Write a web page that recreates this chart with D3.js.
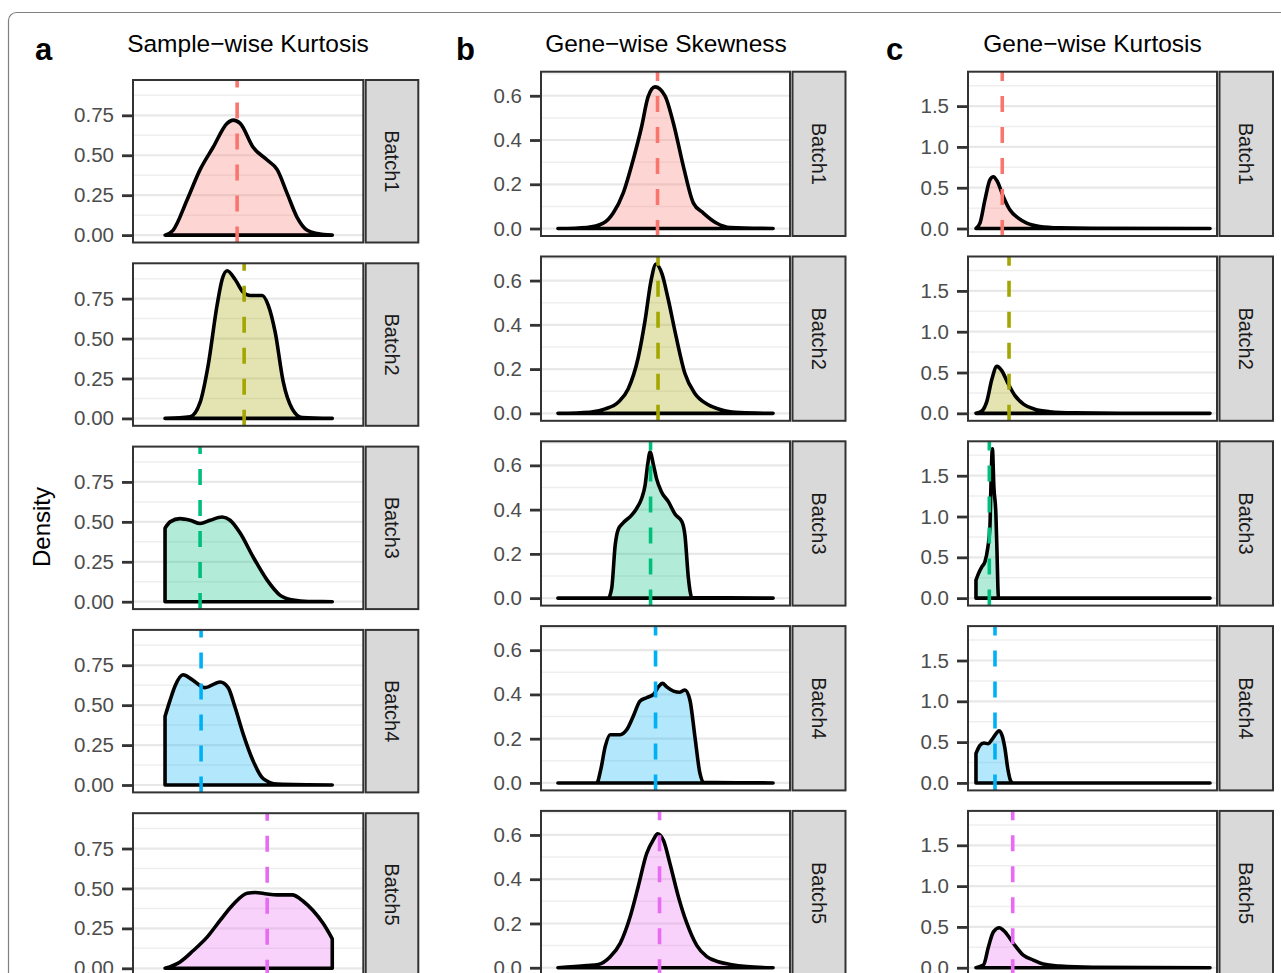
<!DOCTYPE html>
<html>
<head>
<meta charset="utf-8">
<script src="https://cdn.jsdelivr.net/npm/d3@7"></script>
<style>
  body { margin: 0; background: #fff; }
  svg { font-family: "Liberation Sans", Arial, Helvetica, sans-serif; }
</style>
</head>
<body>
<div id="chart"></div>
<script>
// Data //
var batches = ["Batch1", "Batch2", "Batch3", "Batch4", "Batch5"];

// density curves as [value, density]; x has no axis in the figure so units are read off the panel
var sampleKurtDensity = [
  [[3.2,0],[4.0,0.03],[5.4,0.22],[6.7,0.41],[8.0,0.55],[9.4,0.70],[10.0,0.72],[10.7,0.70],[12.0,0.55],[13.4,0.47],[14.4,0.41],[15.4,0.26],[16.4,0.11],[17.4,0.03],[18.4,0.01],[19.9,0]],
  [[3.2,0],[5.7,0.01],[6.7,0.10],[7.5,0.33],[8.4,0.71],[8.9,0.87],[9.4,0.925],[10.2,0.87],[11.0,0.79],[11.7,0.77],[12.9,0.77],[13.5,0.71],[14.2,0.54],[15.0,0.23],[15.9,0.06],[16.9,0.005],[19.9,0]],
  [[3.2,0.46],[3.7,0.50],[4.7,0.52],[5.7,0.51],[6.7,0.49],[7.7,0.51],[8.9,0.53],[9.7,0.51],[10.7,0.43],[12.0,0.28],[13.4,0.135],[14.7,0.04],[16.0,0.01],[17.5,0.001],[19.9,0]],
  [[3.2,0.43],[3.7,0.53],[4.2,0.62],[5.0,0.69],[5.9,0.66],[7.2,0.61],[8.7,0.645],[9.5,0.61],[10.2,0.485],[11.0,0.32],[12.0,0.15],[13.0,0.04],[14.4,0.006],[19.9,0]],
  [[3.2,0],[4.7,0.04],[6.0,0.11],[7.4,0.195],[8.7,0.30],[10.0,0.40],[11.4,0.47],[12.2,0.475],[13.4,0.465],[14.4,0.46],[15.9,0.46],[17.0,0.42],[18.0,0.36],[19.0,0.28],[19.9,0.185]]
];
var sampleKurtMean = [10.4, 11.1, 6.7, 6.8, 13.4];

var geneSkewDensity = [
  [[-2.16,0],[-1.58,0.005],[-1.25,0.024],[-1.05,0.07],[-0.85,0.16],[-0.65,0.31],[-0.48,0.46],[-0.35,0.595],[-0.21,0.64],[-0.01,0.60],[0.16,0.475],[0.36,0.28],[0.56,0.115],[0.76,0.07],[1.03,0.024],[1.30,0.005],[2.16,0]],
  [[-2.16,0],[-1.52,0.005],[-1.21,0.02],[-0.95,0.05],[-0.75,0.11],[-0.55,0.25],[-0.41,0.42],[-0.29,0.60],[-0.19,0.675],[-0.07,0.63],[0.05,0.52],[0.21,0.35],[0.39,0.18],[0.59,0.09],[0.85,0.04],[1.13,0.015],[1.50,0.003],[2.16,0]],
  [[-2.16,0],[-1.15,0],[-1.08,0.045],[-1.01,0.24],[-0.95,0.31],[-0.85,0.34],[-0.68,0.375],[-0.58,0.405],[-0.48,0.45],[-0.41,0.51],[-0.36,0.60],[-0.31,0.66],[-0.24,0.60],[-0.18,0.54],[-0.08,0.48],[0.06,0.435],[0.19,0.38],[0.33,0.345],[0.39,0.285],[0.46,0.09],[0.53,0.003],[2.16,0]],
  [[-2.16,0],[-1.38,0],[-1.30,0.06],[-1.21,0.165],[-1.11,0.218],[-0.91,0.218],[-0.78,0.24],[-0.65,0.30],[-0.51,0.37],[-0.38,0.385],[-0.24,0.40],[-0.14,0.435],[-0.06,0.45],[0.02,0.435],[0.16,0.415],[0.29,0.41],[0.39,0.42],[0.49,0.375],[0.59,0.21],[0.69,0.045],[0.76,0.003],[2.16,0]],
  [[-2.16,0],[-1.58,0.01],[-1.35,0.015],[-1.11,0.05],[-0.91,0.11],[-0.71,0.23],[-0.55,0.365],[-0.38,0.515],[-0.24,0.58],[-0.16,0.605],[-0.04,0.575],[0.09,0.47],[0.26,0.32],[0.43,0.20],[0.63,0.10],[0.83,0.05],[1.06,0.027],[1.30,0.015],[1.63,0.005],[2.16,0]]
];
var geneSkewMean = [-0.16, -0.15, -0.30, -0.20, -0.12];

var geneKurtDensity = [
  [[0.8,0],[1.2,0.065],[1.7,0.35],[2.2,0.595],[2.55,0.635],[2.95,0.575],[3.55,0.39],[4.2,0.23],[5.05,0.127],[5.9,0.066],[7.2,0.025],[9.2,0.008],[12.5,0.002],[24.3,0]],
  [[0.8,0],[1.4,0.03],[1.9,0.15],[2.4,0.42],[2.9,0.575],[3.4,0.52],[4.0,0.37],[4.7,0.22],[5.6,0.11],[6.7,0.05],[8.2,0.02],[10.7,0.006],[15.3,0.001],[24.3,0]],
  [[0.8,0.22],[1.05,0.30],[1.4,0.385],[1.7,0.445],[2.0,0.63],[2.2,0.87],[2.3,1.36],[2.45,1.83],[2.6,1.36],[2.8,1.03],[2.9,0.63],[3.0,0.14],[3.05,0.01],[3.2,0],[24.3,0]],
  [[0.8,0.36],[1.2,0.46],[1.6,0.49],[2.0,0.48],[2.4,0.53],[2.8,0.60],[3.1,0.64],[3.4,0.59],[3.7,0.43],[4.0,0.17],[4.3,0.02],[4.5,0],[24.3,0]],
  [[0.8,0],[1.55,0.033],[2.05,0.255],[2.55,0.44],[3.15,0.49],[3.7,0.44],[4.55,0.30],[5.55,0.155],[6.55,0.094],[7.55,0.045],[9.25,0.02],[12.5,0.005],[24.3,0]]
];
var geneKurtMean = [3.44, 4.12, 2.14, 2.71, 4.49];

var sampleKurtTicks = [0, 0.25, 0.5, 0.75];
var geneSkewTicks = [0, 0.2, 0.4, 0.6];
var geneKurtTicks = [0, 0.5, 1.0, 1.5];

// ggplot default hue palette
var batchColors = ["#F8766D", "#A3A500", "#00BF7D", "#00B0F6", "#E76BF3"];

// Layout //
var svgWidth = 1281;
var svgHeight = 973;

var columns = [
  { letter: "a", letterX: 35, title: "Sample\u2212wise Kurtosis", titleX: 248,
    dens: sampleKurtDensity, means: sampleKurtMean, ticks: sampleKurtTicks, fmt: ".2f",
    xDomain: [0, 23], left: 133, right: 363.3, stripL: 365.7, stripR: 418.3,
    top: 80, step: 183.3, h: 162.5 },
  { letter: "b", letterX: 456, title: "Gene\u2212wise Skewness", titleX: 666,
    dens: geneSkewDensity, means: geneSkewMean, ticks: geneSkewTicks, fmt: ".1f",
    xDomain: [-2.5, 2.5], left: 541, right: 790, stripL: 792.5, stripR: 845.5,
    top: 71.7, step: 184.8, h: 164.3 },
  { letter: "c", letterX: 886, title: "Gene\u2212wise Kurtosis", titleX: 1092.5,
    dens: geneKurtDensity, means: geneKurtMean, ticks: geneKurtTicks, fmt: ".1f",
    xDomain: [0, 25], left: 968, right: 1217, stripL: 1219.5, stripR: 1273,
    top: 71.7, step: 184.8, h: 164.3 }
];

var svg = d3.select("#chart")
  .append("svg")
  .attr("width", svgWidth)
  .attr("height", svgHeight);

// outer figure frame
svg.append("rect")
  .attr("x", 8.5)
  .attr("y", 12.5)
  .attr("width", 1400)
  .attr("height", 1100)
  .attr("rx", 8)
  .attr("fill", "none")
  .attr("stroke", "#7f7f7f")
  .attr("stroke-width", 1.2);

columns.forEach(function(col, ci) {
  var xScale = d3.scaleLinear().domain(col.xDomain).range([col.left, col.right]);
  var yMax = d3.max(col.dens, function(d) { return d3.max(d, p => p[1]); });
  var tickStep = col.ticks[1] - col.ticks[0];

  // panel letter + title
  svg.append("text")
    .attr("x", col.letterX)
    .attr("y", 60)
    .attr("font-size", 31)
    .attr("font-weight", "bold")
    .text(col.letter);

  svg.append("text")
    .attr("x", col.titleX)
    .attr("y", 52)
    .attr("text-anchor", "middle")
    .attr("font-size", 24.5)
    .attr("fill", "#000")
    .text(col.title);

  col.dens.forEach(function(pts, i) {
    var top = col.top + i * col.step;
    var bottom = top + col.h;
    var yScale = d3.scaleLinear()
      .domain([-0.05 * yMax, 1.05 * yMax])
      .range([bottom, top]);

    var g = svg.append("g");
    var clipId = "clip-" + ci + "-" + i;

    g.append("clipPath")
      .attr("id", clipId)
      .append("rect")
      .attr("x", col.left)
      .attr("y", top)
      .attr("width", col.right - col.left)
      .attr("height", col.h);

    g.append("rect")
      .attr("x", col.left)
      .attr("y", top)
      .attr("width", col.right - col.left)
      .attr("height", col.h)
      .attr("fill", "#fff");

    // gridlines //
    var minor = col.ticks.map(t => t + tickStep / 2)
      .filter(v => v < yScale.domain()[1]);
    var inner = g.append("g").attr("clip-path", "url(#" + clipId + ")");

    inner.selectAll(".minor")
      .data(minor)
      .enter()
      .append("line")
      .attr("x1", col.left)
      .attr("x2", col.right)
      .attr("y1", d => yScale(d))
      .attr("y2", d => yScale(d))
      .attr("stroke", "#efefef")
      .attr("stroke-width", 1.5);

    inner.selectAll(".major")
      .data(col.ticks)
      .enter()
      .append("line")
      .attr("x1", col.left)
      .attr("x2", col.right)
      .attr("y1", d => yScale(d))
      .attr("y2", d => yScale(d))
      .attr("stroke", "#e8e8e8")
      .attr("stroke-width", 2.2);

    // density //
    var area = d3.area()
      .x(d => xScale(d[0]))
      .y0(yScale(0))
      .y1(d => yScale(d[1]))
      .curve(d3.curveMonotoneX);

    inner.append("path")
      .datum(pts)
      .attr("d", area)
      .attr("fill", batchColors[i])
      .attr("fill-opacity", 0.3)
      .attr("stroke", "#000")
      .attr("stroke-width", 3.6)
      .attr("stroke-linejoin", "round")
      .attr("stroke-linecap", "round");

    // mean line //
    inner.append("line")
      .attr("x1", xScale(col.means[i]))
      .attr("x2", xScale(col.means[i]))
      .attr("y1", bottom)
      .attr("y2", top)
      .attr("stroke", batchColors[i])
      .attr("stroke-width", 3.6)
      .attr("stroke-dasharray", "16,15");

    // panel border
    g.append("rect")
      .attr("x", col.left)
      .attr("y", top)
      .attr("width", col.right - col.left)
      .attr("height", col.h)
      .attr("fill", "none")
      .attr("stroke", "#333")
      .attr("stroke-width", 2);

    // y axis //
    var leftAxis = d3.axisLeft(yScale)
      .tickValues(col.ticks)
      .tickFormat(d3.format(col.fmt))
      .tickSizeInner(10)
      .tickSizeOuter(0)
      .tickPadding(8);

    var ax = g.append("g")
      .attr("transform", `translate(${col.left - 1}, 0)`)
      .call(leftAxis);
    ax.select(".domain").remove();
    ax.selectAll(".tick line")
      .attr("stroke", "#333")
      .attr("stroke-width", 2.8);
    ax.selectAll(".tick text")
      .attr("fill", "#4d4d4d")
      .attr("font-size", 20.5)
      .attr("font-family", "Liberation Sans, Arial, sans-serif");

    // facet strip //
    g.append("rect")
      .attr("x", col.stripL)
      .attr("y", top)
      .attr("width", col.stripR - col.stripL)
      .attr("height", col.h)
      .attr("fill", "#d9d9d9")
      .attr("stroke", "#333")
      .attr("stroke-width", 2);

    var sx = (col.stripL + col.stripR) / 2;
    var sy = top + col.h / 2;
    g.append("text")
      .attr("transform", `translate(${sx}, ${sy}) rotate(90)`)
      .attr("text-anchor", "middle")
      .attr("dominant-baseline", "central")
      .attr("font-size", 20)
      .attr("fill", "#1a1a1a")
      .text(batches[i]);
  });
});

// Axis label //
svg.append("text")
  .attr("transform", "translate(50, 527) rotate(-90)")
  .attr("text-anchor", "middle")
  .attr("font-size", 24)
  .attr("fill", "#000")
  .text("Density");
</script>
</body>
</html>
